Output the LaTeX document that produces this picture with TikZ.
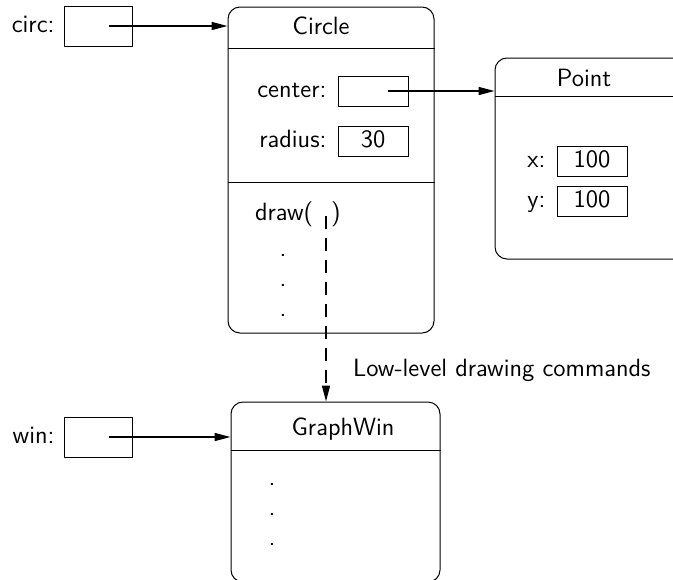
\documentclass[tikz,border=0pt]{standalone}
\usetikzlibrary{arrows.meta,positioning}
\begin{document}
\begin{tikzpicture}[x=0.5pt, y=-0.5pt, >={Triangle[length=8pt,width=4pt]},
  font=\sffamily\fontsize{12.5}{15}\selectfont, line join=round,
  var/.style={draw, line width=0.5pt, minimum width=34pt, minimum height=20pt, inner sep=0pt},
  slot/.style={draw, line width=0.5pt, minimum width=35pt, minimum height=15pt, inner sep=0pt,
    text height=.65em, text depth=0pt},
  lbl/.style={text height=.65em, text depth=0pt},
  object/.style={draw, line width=0.5pt, rounded corners=6pt, inner sep=0pt},
  ref/.style={->, line width=0.8pt}]
\clip (0,0) rectangle (673,579);
% variables
\node[var] (circ) at (98,26) {};
\node[lbl, left=1pt of circ] (circlbl) {circ:};
\node[var] (win) at (98,437) {};
\node[lbl, left=1pt of win] (winlbl) {win:};
% Circle object
\node[object, minimum width=103pt, minimum height=163pt] (circobj) at (331,170) {};
\draw[line width=0.5pt] (circobj.west |- 0,48) -- (circobj.east |- 0,48);
\draw[line width=0.5pt] (circobj.west |- 0,182) -- (circobj.east |- 0,182);
\node (circttl) at (321,26) {Circle};
\node[slot] (center) at (373,91) {};
\node[lbl, left=2pt of center] (centerlbl) {center:};
\node[slot] (radius) at (373,141) {30};
\node[lbl, left=2pt of radius] (radiuslbl) {radius:};
\node[lbl, anchor=west] (drawlbl) at (248,214) {draw(\hspace{9pt})};
\coordinate (call) at (326,216);
\foreach \y in {255,285,315}
  \node (cdot\y) at (283,\y) {.};
% Point object
\node[object, minimum width=102.5pt, minimum height=100.5pt] (pointobj) at (597.5,158.5) {};
\draw[line width=0.5pt] (pointobj.west |- 0,96) -- (pointobj.east |- 0,96);
\node (pointttl) at (584,78) {Point};
\node[slot] (px) at (592,161) {100};
\node[lbl, left=2pt of px] (pxlbl) {x:};
\node[slot] (py) at (592,201) {100};
\node[lbl, left=2pt of py] (pylbl) {y:};
% GraphWin object
\node[object, minimum width=104.5pt, minimum height=90pt] (gwobj) at (335.5,492) {};
\draw[line width=0.5pt] (gwobj.west |- 0,450) -- (gwobj.east |- 0,450);
\node (gwttl) at (343,429) {GraphWin};
\foreach \y in {484,514,544}
  \node (gdot\y) at (272,\y) {.};
% references
\draw[ref] ([xshift=5.5pt]circ.center) -- (circ.center -| circobj.west);
\draw[ref] ([xshift=7.5pt]center.center) -- (center.center -| pointobj.west);
\draw[ref] ([xshift=5.5pt]win.center) -- (win.center -| gwobj.west);
\draw[ref, dash pattern=on 6.5pt off 4.5pt] (call) -- (call |- gwobj.north);
\node[lbl, anchor=west] (cmdlbl) at (346,370) {Low-level drawing commands};
\end{tikzpicture}
\end{document}
